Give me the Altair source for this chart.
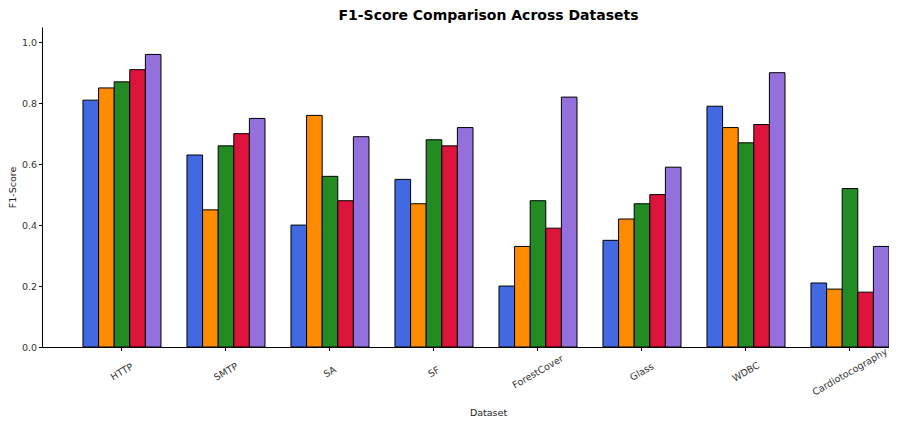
import altair as alt
import pandas as pd

datasets = ["HTTP", "SMTP", "SA", "SF", "ForestCover", "Glass", "WDBC", "Cardiotocography"]
models = ["Model 1", "Model 2", "Model 3", "Model 4", "Model 5"]
colors = ["#4169E1", "#FF8C00", "#228B22", "#DC143C", "#9370DB"]

model1 = [0.81, 0.63, 0.40, 0.55, 0.20, 0.35, 0.79, 0.21]
model2 = [0.85, 0.45, 0.76, 0.47, 0.33, 0.42, 0.72, 0.19]
model3 = [0.87, 0.66, 0.56, 0.68, 0.48, 0.47, 0.67, 0.52]
model4 = [0.91, 0.70, 0.48, 0.66, 0.39, 0.50, 0.73, 0.18]
model5 = [0.96, 0.75, 0.69, 0.72, 0.82, 0.59, 0.90, 0.33]

series = [model1, model2, model3, model4, model5]
rows = []
for m, vals in zip(models, series):
    for d, v in zip(datasets, vals):
        rows.append({"Dataset": d, "Model": m, "F1": v})
df = pd.DataFrame(rows)

font = "DejaVu Sans"

chart = alt.Chart(df).mark_bar(stroke="black", strokeWidth=1).encode(
    x=alt.X("Dataset:N", sort=datasets,
            scale=alt.Scale(paddingInner=0.25, paddingOuter=0.197, align=1),
            axis=alt.Axis(title="Dataset", labelAngle=-30, labelAlign="center",
                          labelBaseline="middle", labelPadding=21, labelLimit=300,
                          labelOverlap=False,
                          titleX=446, titleY=60, titleBaseline="top")),
    xOffset=alt.XOffset("Model:N", sort=models),
    y=alt.Y("F1:Q", scale=alt.Scale(domain=[0, 1.05], nice=False),
            axis=alt.Axis(title="F1-Score", values=[0, 0.2, 0.4, 0.6, 0.8, 1.0],
                          format=".1f")),
    color=alt.Color("Model:N", sort=models,
                    scale=alt.Scale(domain=models, range=colors), legend=None),
).properties(
    width=847,
    height=320,
    title=alt.TitleParams("F1-Score Comparison Across Datasets", fontSize=14,
                          font=font, fontWeight="bold", color="black",
                          anchor="middle", dx=23, offset=4),
    autosize=alt.AutoSizeParams(type="none"),
    padding={"left": 34, "top": 19, "right": 0, "bottom": 74},
).configure_view(stroke=None).configure_axis(
    grid=False,
    domainColor="black",
    domainWidth=1,
    tickColor="black",
    tickSize=3.5,
    labelFont=font,
    labelFontSize=9.5,
    labelColor="#333333",
    titleFont=font,
    titleFontSize=9.5,
    titleFontWeight="normal",
    titleColor="#222222",
)

chart.save("out.html", embed_options={"renderer": "svg", "actions": False})
